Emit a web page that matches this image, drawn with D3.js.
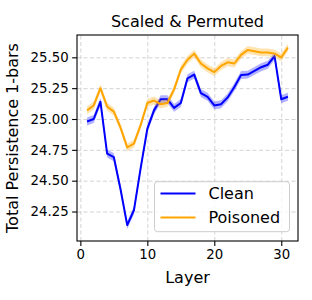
<!DOCTYPE html>
<html>
<head>
<meta charset="utf-8">
<script src="https://cdn.jsdelivr.net/npm/d3@7"></script>
<style>
  body { margin: 0; background: #fff; }
  text { font-family: "DejaVu Sans", sans-serif; fill: #000; }
  .grid line { stroke: #c8c8c8; stroke-dasharray: 4,2.5; stroke-width: 0.8; }
  .grid .domain { display: none; }
</style>
</head>
<body>
<script>
// layers and mean total persistence per series
var layers = d3.range(1, 32);
var clean = [24.98, 25.00, 25.14, 24.72, 24.69, 24.43, 24.14, 24.26, 24.60, 24.92,
             25.07, 25.16, 25.16, 25.09, 25.13, 25.33, 25.36, 25.21, 25.18, 25.11,
             25.12, 25.175, 25.26, 25.357, 25.36, 25.39, 25.42, 25.44, 25.51, 25.16, 25.18];
var poisoned = [25.07, 25.11, 25.25, 25.10, 25.06, 24.93, 24.77, 24.80, 24.95, 25.13,
                25.15, 25.12, 25.13, 25.24, 25.40, 25.48, 25.53, 25.45, 25.41, 25.38,
                25.43, 25.46, 25.45, 25.52, 25.56, 25.55, 25.54, 25.54, 25.53, 25.50, 25.58];
var cleanErr = 0.032;
var poisonedErr = 0.032;
var yTicks = [24.25, 24.50, 24.75, 25.00, 25.25, 25.50];
var xTicks = [0, 10, 20, 30];

var margin = {top: 35, right: 14, bottom: 59, left: 77},
    width = 312 - margin.left - margin.right,
    height = 300 - margin.top - margin.bottom;

var x = d3.scaleLinear().domain([-0.5, 32.5]).range([0, width]);
var y = d3.scaleLinear().domain([24.011, 25.681]).range([height, 0]);

var svg = d3.select("body").append("svg")
    .attr("width", 312)
    .attr("height", 300)
  .append("g")
    .attr("transform", "translate(" + margin.left + "," + margin.top + ")");

// grid
svg.append("g")
    .attr("class", "grid")
    .attr("transform", "translate(0," + height + ")")
    .call(d3.axisBottom(x).tickValues(xTicks).tickSize(-height).tickFormat(""));
svg.append("g")
    .attr("class", "grid")
    .call(d3.axisLeft(y).tickValues(yTicks).tickSize(-width).tickFormat(""));

function drawSeries(values, err, color) {
    var data = layers.map(function(l, i) { return {l: l, v: values[i]}; });
    var area = d3.area()
        .x(function(d) { return x(d.l); })
        .y0(function(d) { return y(d.v - err); })
        .y1(function(d) { return y(d.v + err); });
    var line = d3.line()
        .x(function(d) { return x(d.l); })
        .y(function(d) { return y(d.v); });
    svg.append("path")
        .datum(data)
        .attr("fill", color)
        .attr("fill-opacity", 0.3)
        .attr("d", area);
    svg.append("path")
        .datum(data)
        .attr("fill", "none")
        .attr("stroke", color)
        .attr("stroke-width", 2)
        .attr("stroke-linejoin", "round")
        .attr("d", line);
}
drawSeries(clean, cleanErr, "blue");
drawSeries(poisoned, poisonedErr, "orange");

// axes
var xAxis = svg.append("g")
    .attr("transform", "translate(0," + height + ")")
    .call(d3.axisBottom(x).tickValues(xTicks).tickSize(4.9).tickPadding(3.5));
var yAxis = svg.append("g")
    .call(d3.axisLeft(y).tickValues(yTicks).tickFormat(d3.format(".2f")).tickSize(4.9).tickPadding(3.5));
[xAxis, yAxis].forEach(function(a) {
    a.selectAll("text").style("font-size", "13.3px").style("font-family", "DejaVu Sans");
    a.selectAll("line").attr("stroke", "#000").attr("stroke-width", 1.1);
    a.select(".domain").remove();
});
svg.append("rect")
    .attr("width", width)
    .attr("height", height)
    .attr("fill", "none")
    .attr("stroke", "#000")
    .attr("stroke-width", 1.1);

// title and labels
svg.append("text")
    .attr("x", width / 2)
    .attr("y", -8)
    .style("text-anchor", "middle")
    .style("font-size", "16px")
    .text("Scaled & Permuted");
svg.append("text")
    .attr("x", width / 2)
    .attr("y", height + 42)
    .style("text-anchor", "middle")
    .style("font-size", "16px")
    .text("Layer");
svg.append("text")
    .attr("transform", "translate(" + (-65) + "," + (height / 2) + ") rotate(-90)")
    .attr("dy", "0.35em")
    .style("text-anchor", "middle")
    .style("font-size", "16px")
    .text("Total Persistence 1-bars");

// legend
var legend = svg.append("g")
    .attr("transform", "translate(" + (154.5 - margin.left) + "," + (181.7 - margin.top) + ")");
legend.append("rect")
    .attr("width", 135)
    .attr("height", 50)
    .attr("rx", 3)
    .attr("fill", "#fff")
    .attr("fill-opacity", 0.8)
    .attr("stroke", "#ccc")
    .attr("stroke-width", 1);
var items = [{name: "Clean", color: "blue"}, {name: "Poisoned", color: "orange"}];
items.forEach(function(it, i) {
    var g = legend.append("g").attr("transform", "translate(0," + (11.8 + i * 24) + ")");
    g.append("line")
        .attr("x1", 6).attr("x2", 41)
        .attr("stroke", it.color)
        .attr("stroke-width", 2);
    g.append("text")
        .attr("x", 54)
        .attr("dy", "0.35em")
        .style("font-size", "16px")
        .text(it.name);
});
</script>
</body>
</html>
